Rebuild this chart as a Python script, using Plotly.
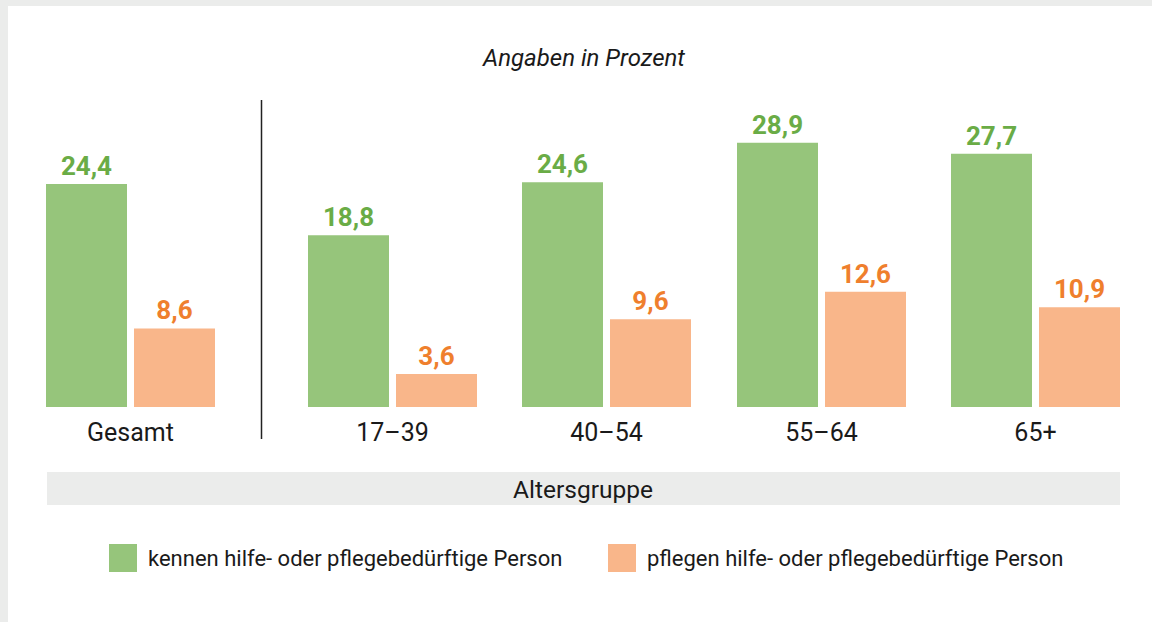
import plotly.graph_objects as go

# ---- data ----
categories = ["Gesamt", "17–39", "40–54", "55–64", "65+"]
kennen = [24.4, 18.8, 24.6, 28.9, 27.7]
pflegen = [8.6, 3.6, 9.6, 12.6, 10.9]
series_names = ["kennen hilfe- oder pflegebedürftige Person",
                "pflegen hilfe- oder pflegebedürftige Person"]
title_text = "Angaben in Prozent"
axis_title = "Altersgruppe"

# ---- layout constants (pixel-based x axis) ----
W, H = 1152, 622
group_centers = [130.5, 392.5, 606.5, 821.5, 1035.5]
bar_w = 81
half = 44
FONT = "Roboto, sans-serif"

bar_green = "rgb(150,197,123)"
bar_orange = "rgb(249,182,138)"
lab_green = "rgb(106,172,70)"
lab_orange = "rgb(239,127,45)"
txt = "#1a1a1a"

fig = go.Figure()
fig.add_trace(go.Bar(
    x=[c - half for c in group_centers], y=kennen, width=bar_w,
    marker=dict(color=bar_green, line=dict(width=0)),
    name=series_names[0],
    texttemplate="%{y:.1f}", textposition="outside",
    textfont=dict(family=FONT, size=26, color=lab_green, weight="bold"),
    cliponaxis=False, showlegend=False,
))
fig.add_trace(go.Bar(
    x=[c + half for c in group_centers], y=pflegen, width=bar_w,
    marker=dict(color=bar_orange, line=dict(width=0)),
    name=series_names[1],
    texttemplate="%{y:.1f}", textposition="outside",
    textfont=dict(family=FONT, size=26, color=lab_orange, weight="bold"),
    cliponaxis=False, showlegend=False,
))

y0 = (H - 407) / H
y1 = (H - 41.4) / H

shapes = [
    dict(type="rect", xref="paper", yref="paper", x0=0, x1=1, y0=(H - 6) / H, y1=1,
         fillcolor="#ebeceb", line=dict(width=0), layer="below"),
    dict(type="rect", xref="paper", yref="paper", x0=0, x1=8 / W, y0=0, y1=1,
         fillcolor="#ebeceb", line=dict(width=0), layer="below"),
    dict(type="line", xref="x", yref="paper", x0=261.5, x1=261.5,
         y0=(H - 439) / H, y1=(H - 100) / H, line=dict(color="#222222", width=1.5)),
    dict(type="rect", xref="x", yref="paper", x0=47, x1=1120,
         y0=(H - 505) / H, y1=(H - 472) / H, fillcolor="#ebeceb", line=dict(width=0)),
    dict(type="rect", xref="x", yref="paper", x0=109, x1=137,
         y0=(H - 572) / H, y1=(H - 544) / H, fillcolor=bar_green, line=dict(width=0)),
    dict(type="rect", xref="x", yref="paper", x0=608, x1=636,
         y0=(H - 572) / H, y1=(H - 544) / H, fillcolor=bar_orange, line=dict(width=0)),
]

annotations = [
    dict(text=title_text, xref="x", yref="paper", x=583, y=(H - 58) / H,
         showarrow=False, font=dict(family=FONT, size=24, color=txt, style="italic"),
         xanchor="center", yanchor="middle"),
    dict(text=axis_title, xref="x", yref="paper", x=583, y=(H - 489) / H,
         showarrow=False, font=dict(family=FONT, size=24.5, color=txt),
         xanchor="center", yanchor="middle"),
    dict(text=series_names[0], xref="x", yref="paper", x=146, y=(H - 558) / H,
         showarrow=False, font=dict(family=FONT, size=22, color=txt),
         xanchor="left", yanchor="middle"),
    dict(text=series_names[1], xref="x", yref="paper", x=645, y=(H - 558) / H,
         showarrow=False, font=dict(family=FONT, size=22, color=txt),
         xanchor="left", yanchor="middle"),
]

fig.update_layout(
    width=W, height=H,
    margin=dict(l=0, r=0, t=0, b=0),
    paper_bgcolor="white", plot_bgcolor="white",
    separators=",.",
    barmode="overlay",
    shapes=shapes, annotations=annotations,
    xaxis=dict(range=[0, W], domain=[0, 1], tickvals=group_centers, ticktext=categories,
               showgrid=False, zeroline=False, showline=False, ticks="",
               tickfont=dict(family=FONT, size=25, color=txt), fixedrange=True,
               ticklabelstandoff=8),
    yaxis=dict(range=[0, 40], domain=[y0, y1], visible=False, fixedrange=True),
    showlegend=False,
)

fig.write_html("out.html", config={"displayModeBar": False},
               post_script="document.body.style.margin='0';")
